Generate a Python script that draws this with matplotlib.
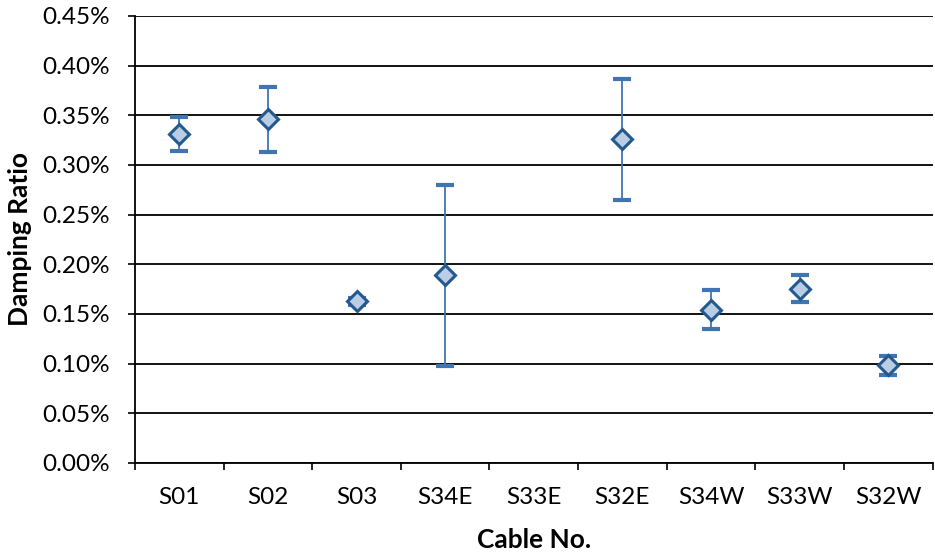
import numpy as np
import matplotlib
matplotlib.use('Agg')
import matplotlib.pyplot as plt
from matplotlib.ticker import FuncFormatter, FixedLocator

plt.rcParams['font.family'] = ['Lato', 'DejaVu Sans']

# damping ratio in percent
cables = ['S01', 'S02', 'S03', 'S34E', 'S33E', 'S32E', 'S34W', 'S33W', 'S32W']
mean = [0.331, 0.346, 0.163, 0.189, np.nan, 0.326, 0.154, 0.175, 0.099]
upper = [0.348, 0.378, 0.1665, 0.280, np.nan, 0.387, 0.174, 0.189, 0.108]
lower = [0.314, 0.313, 0.1595, 0.098, np.nan, 0.265, 0.135, 0.162, 0.089]

x = np.arange(len(cables))
m = np.array(mean)
err = [m - np.array(lower), np.array(upper) - m]

fig = plt.figure(figsize=(9.35, 5.56), dpi=100)


def fit_size(txt, width_px, weight='normal'):
    # font size that gives the text about this width in pixels
    t = fig.text(0, 0, txt, fontsize=10, fontweight=weight)
    w = t.get_window_extent(renderer=fig.canvas.get_renderer()).width
    t.remove()
    return 10 * width_px / w


tick_fs = fit_size('0.45%', 63) * 1.07
title_fs = (fit_size('Cable No.', 110, 'bold') + fit_size('Damping Ratio', 180, 'bold')) / 2

ax = fig.add_axes([0.1444, 0.1673, 0.853, 0.804])

_, caps, _ = ax.errorbar(x, m, yerr=err, fmt='none', ecolor='#4075B3', elinewidth=1.3,
                         capsize=6.5, capthick=3, zorder=3)
for c in caps:
    c.set_color('#1F5A96')
ax.plot(x, m, 'D', ms=10.5, mfc='#B9CDE5', mec='#24598F', mew=2.2, ls='none', zorder=4)

ax.set_xlim(-0.5, len(cables) - 0.5)
ax.set_ylim(0, 0.45)
ax.yaxis.set_major_locator(FixedLocator(np.arange(0, 0.451, 0.05)))
ax.yaxis.set_major_formatter(FuncFormatter(lambda v, p: '%.2f%%' % v))
ax.set_xticks(x)
ax.set_xticklabels(cables)
ax.set_xticks(np.arange(-0.5, len(cables), 1.0), minor=True)
ax.tick_params(axis='x', which='major', length=0, pad=17, labelsize=tick_fs)
ax.tick_params(axis='x', which='minor', length=5, width=1.2, direction='out')
ax.tick_params(axis='y', length=5, width=1.2, labelsize=tick_fs, pad=13)

ax.grid(axis='y', color='black', lw=1.3)
ax.set_axisbelow(True)
for s in ['top', 'right']:
    ax.spines[s].set_visible(False)
ax.spines['left'].set_linewidth(1.3)
ax.spines['bottom'].set_linewidth(1.3)

ax.set_ylabel('Damping Ratio', fontsize=title_fs, fontweight='bold')
ax.set_xlabel('Cable No.', fontsize=title_fs, fontweight='bold')
ax.yaxis.set_label_coords(-0.129, 0.5)
ax.xaxis.set_label_coords(0.5, -0.146)

fig.savefig('out.png', dpi=100)
